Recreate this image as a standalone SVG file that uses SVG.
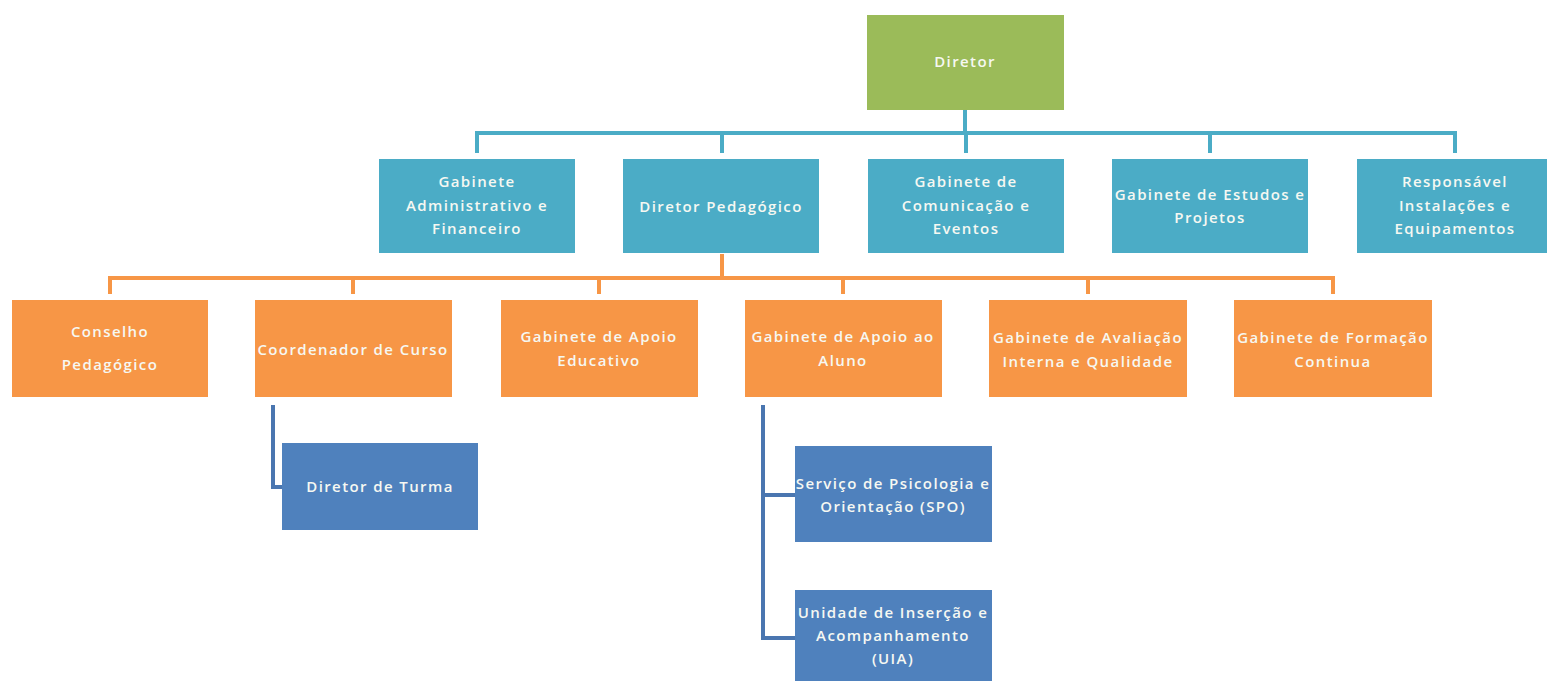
<svg xmlns="http://www.w3.org/2000/svg" width="1547" height="681" viewBox="0 0 1547 681">
<style>
.t{font-family:"Open Sans","DejaVu Sans",sans-serif;font-weight:600;font-size:15px;letter-spacing:1.4px;fill:#F6F8F2;text-anchor:middle}
.g{fill:#9BBB59}
.b{fill:#4BACC6}
.o{fill:#F79646}
.d{fill:#4F81BD}
.cb{stroke:#4BACC6;stroke-width:4;fill:none}
.co{stroke:#F79646;stroke-width:4;fill:none}
.cd{stroke:#4A76B0;stroke-width:4;fill:none}
</style>
<rect width="1547" height="681" fill="#FFFFFF"/>
<g id="connectors">
<path class="cb" d="M965 110V133M477 153V133H1455V153M722 133V153M966 133V153M1210 133V153"/>
<path class="co" d="M722 254V278M110 294V278H1333V294M353 278V294M599 278V294M843 278V294M1088 278V294"/>
<path class="cd" d="M273 405V487H282"/>
<path class="cd" d="M763 405V638H795M763 495H795"/>
</g>
<g id="diretor"><rect class="g" x="867" y="15" width="197" height="95"/><text class="t" x="965" y="67">Diretor</text></g>
<g id="gab-admin"><rect class="b" x="379" y="159" width="196" height="94"/><text class="t" x="477" y="187">Gabinete</text><text class="t" x="477" y="211">Administrativo e</text><text class="t" x="477" y="234">Financeiro</text></g>
<g id="diretor-pedagogico"><rect class="b" x="623" y="159" width="196" height="94"/><text class="t" x="721" y="212">Diretor Pedagógico</text></g>
<g id="gab-comunicacao"><rect class="b" x="868" y="159" width="196" height="94"/><text class="t" x="966" y="187">Gabinete de</text><text class="t" x="966" y="211">Comunicação e</text><text class="t" x="966" y="234">Eventos</text></g>
<g id="gab-estudos"><rect class="b" x="1112" y="159" width="196" height="94"/><text class="t" x="1210" y="200">Gabinete de Estudos e</text><text class="t" x="1210" y="223">Projetos</text></g>
<g id="responsavel"><rect class="b" x="1357" y="159" width="196" height="94"/><text class="t" x="1455" y="187">Responsável</text><text class="t" x="1455" y="211">Instalações e</text><text class="t" x="1455" y="234">Equipamentos</text></g>
<g id="conselho"><rect class="o" x="12" y="300" width="196" height="97"/><text class="t" x="110" y="337">Conselho</text><text class="t" x="110" y="370">Pedagógico</text></g>
<g id="coordenador"><rect class="o" x="255" y="300" width="197" height="97"/><text class="t" x="353" y="355">Coordenador de Curso</text></g>
<g id="gab-apoio-educativo"><rect class="o" x="501" y="300" width="197" height="97"/><text class="t" x="599" y="342">Gabinete de Apoio</text><text class="t" x="599" y="366">Educativo</text></g>
<g id="gab-apoio-aluno"><rect class="o" x="745" y="300" width="197" height="97"/><text class="t" x="843" y="342">Gabinete de Apoio ao</text><text class="t" x="843" y="366">Aluno</text></g>
<g id="gab-avaliacao"><rect class="o" x="989" y="300" width="198" height="97"/><text class="t" x="1088" y="343">Gabinete de Avaliação</text><text class="t" x="1088" y="367">Interna e Qualidade</text></g>
<g id="gab-formacao"><rect class="o" x="1234" y="300" width="198" height="97"/><text class="t" x="1333" y="343">Gabinete de Formação</text><text class="t" x="1333" y="367">Continua</text></g>
<g id="diretor-turma"><rect class="d" x="282" y="443" width="196" height="87"/><text class="t" x="380" y="492">Diretor de Turma</text></g>
<g id="spo"><rect class="d" x="795" y="446" width="197" height="96"/><text class="t" x="893" y="489">Serviço de Psicologia e</text><text class="t" x="893" y="512">Orientação (SPO)</text></g>
<g id="uia"><rect class="d" x="795" y="590" width="197" height="100"/><text class="t" x="893" y="618">Unidade de Inserção e</text><text class="t" x="893" y="641">Acompanhamento</text><text class="t" x="893" y="664">(UIA)</text></g>
</svg>
